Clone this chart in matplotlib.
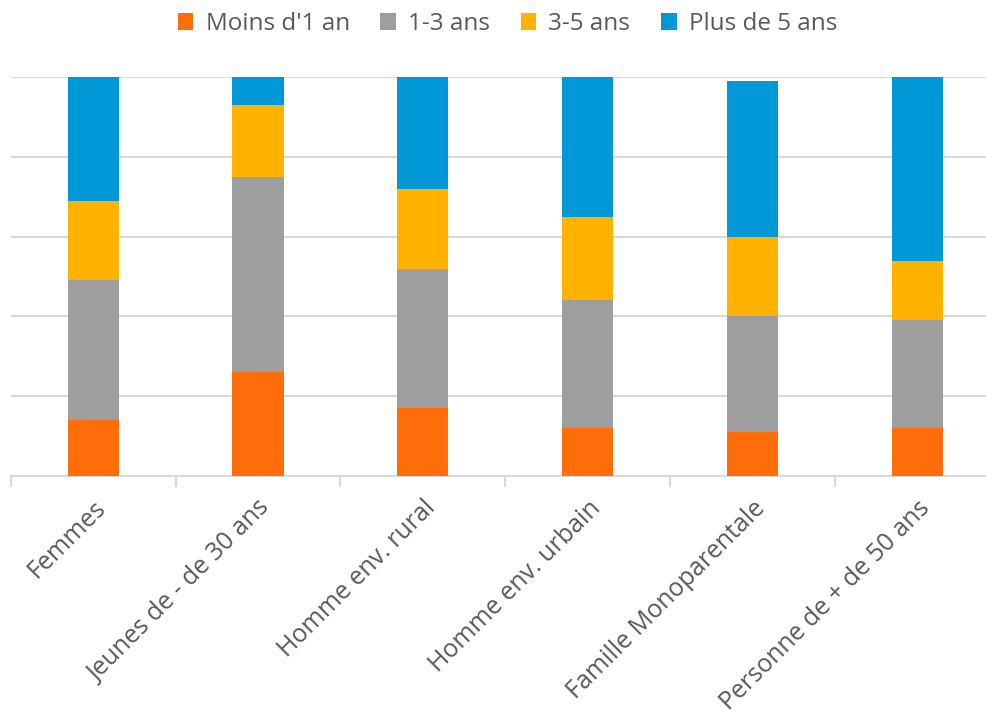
import matplotlib
matplotlib.use("Agg")
import matplotlib.pyplot as plt
import numpy as np

categories = ["Femmes", "Jeunes de - de 30 ans", "Homme env. rural",
              "Homme env. urbain", "Famille Monoparentale", "Personne de + de 50 ans"]
series_names = ["Moins d'1 an", "1-3 ans", "3-5 ans", "Plus de 5 ans"]
moins_1 = [14, 26, 17, 12, 11, 12]
un_trois = [35, 49, 35, 32, 29, 27]
trois_cinq = [20, 18, 20, 21, 20, 15]
plus_5 = [31, 7, 28, 35, 39, 46]
colors = ["#FF6E0A", "#9E9E9E", "#FFB300", "#0098D6"]

plt.rcParams['font.family'] = ['Open Sans', 'DejaVu Sans']

fig = plt.figure(figsize=(9.87, 7.2), dpi=100)
W, H = 987, 720
x0, x1 = 10.7, 1000
y0, y1 = 476, 77
ax = fig.add_axes([x0 / W, 1 - y0 / H, (x1 - x0) / W, (y0 - y1) / H])

x = np.arange(len(categories))
bottom = np.zeros(len(categories))
handles = []
for vals, name, c in zip([moins_1, un_trois, trois_cinq, plus_5], series_names, colors):
    b = ax.bar(x, vals, bottom=bottom, width=0.31, color=c, label=name, zorder=3)
    handles.append(b)
    bottom += np.array(vals)

ax.set_xlim(-0.5, len(categories) - 0.5)
ax.set_ylim(0, 100)
ax.set_yticks([20, 40, 60, 80, 100])
ax.yaxis.grid(True, color="#D9D9D9", linewidth=1.5, zorder=0)
ax.tick_params(axis='y', length=0, labelleft=False)
for s in ["top", "right", "left"]:
    ax.spines[s].set_visible(False)
ax.spines["bottom"].set_color("#D9D9D9")
ax.spines["bottom"].set_linewidth(1.5)

ax.set_xticks(np.arange(len(categories) + 1) - 0.5, minor=False)
ax.set_xticklabels([])
ax.tick_params(axis='x', which='major', length=8, color="#D9D9D9", width=1.5)
ax.set_xticks(x, minor=True)
ax.set_xticklabels(categories, minor=True, rotation=45, ha='right',
                   rotation_mode='anchor', fontsize=18, color="#595959")
ax.tick_params(axis='x', which='minor', length=0, pad=14)

fig.legend(handles=handles, labels=series_names, loc='center', bbox_to_anchor=(0.514, 1 - 24 / H),
           ncol=4, frameon=False, fontsize=17.5, handlelength=0.65, handleheight=0.65,
           handletextpad=0.5, columnspacing=1.25, labelcolor="#595959")

fig.savefig("out.png", dpi=100)
